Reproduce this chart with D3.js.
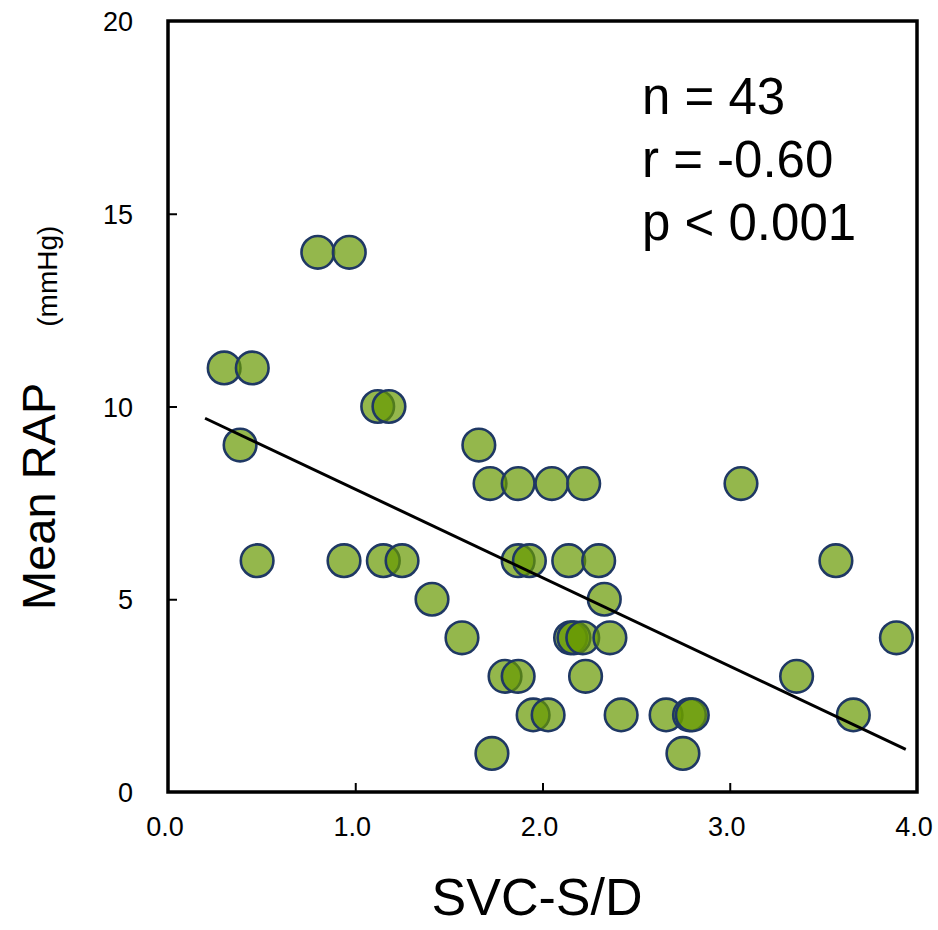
<!DOCTYPE html>
<html>
<head>
<meta charset="utf-8">
<script src="https://cdn.jsdelivr.net/npm/d3@7"></script>
<style>
  html, body { margin: 0; padding: 0; background: #fff; }
  svg text { font-family: "Liberation Sans", Arial, sans-serif; fill: #000; }
</style>
</head>
<body>
<svg id="chart" width="938" height="930"></svg>
<script>
// ---- data ----
const svcSD = [0.80, 0.968, 0.30, 0.45, 1.12, 1.18, 0.385, 1.66,
  1.72, 1.87, 2.05, 2.22, 3.06,
  0.476, 0.94, 1.15, 1.25, 1.87, 1.93, 2.14, 2.30, 3.567,
  1.41, 2.33,
  1.57, 2.15, 2.168, 2.215, 2.36, 3.89,
  1.80, 1.87, 2.23, 3.357,
  1.95, 2.03, 2.42, 2.66, 2.785, 2.80, 3.66,
  1.73, 2.75];
const meanRAP = [14, 14, 11, 11, 10, 10, 9, 9,
  8, 8, 8, 8, 8,
  6, 6, 6, 6, 6, 6, 6, 6, 6,
  5, 5,
  4, 4, 4, 4, 4, 4,
  3, 3, 3, 3,
  2, 2, 2, 2, 2, 2, 2,
  1, 1];
const xTicks = [0, 1, 2, 3, 4];
const yTicks = [0, 5, 10, 15, 20];
const fitRange = [0.198, 3.94];
const fitIntercept = 10.15;
const fitSlope = -2.295;
const statLines = ["n = 43", "r = -0.60", "p < 0.001"];

// ---- layout ----
const L = 168, R = 917, T = 21, B = 792;
const svg = d3.select("#chart");
const x = d3.scaleLinear().domain([0, 4]).range([L, R]);
const y = d3.scaleLinear().domain([0, 20]).range([B, T]);

// inward ticks
svg.append("g").attr("transform", `translate(0,${B})`)
  .call(d3.axisTop(x).tickValues(xTicks.slice(1, -1)).tickSize(9).tickFormat(""))
  .call(g => g.select(".domain").remove())
  .call(g => g.selectAll("line").attr("stroke", "#000").attr("stroke-width", 2));
svg.append("g").attr("transform", `translate(${L},0)`)
  .call(d3.axisRight(y).tickValues(yTicks.slice(1, -1)).tickSize(9).tickFormat(""))
  .call(g => g.select(".domain").remove())
  .call(g => g.selectAll("line").attr("stroke", "#000").attr("stroke-width", 2));

// tick labels
svg.append("g").selectAll("text").data(xTicks).join("text")
  .attr("x", d => x(d) - 3).attr("y", 836)
  .attr("text-anchor", "middle").attr("font-size", 27)
  .text(d => d3.format(".1f")(d));
svg.append("g").selectAll("text").data(yTicks).join("text")
  .attr("x", 133).attr("y", d => y(d) + 10)
  .attr("text-anchor", "end").attr("font-size", 27)
  .text(d => d);

// frame
svg.append("rect").attr("x", x(0)).attr("y", y(20))
  .attr("width", x(4) - x(0)).attr("height", y(0) - y(20))
  .attr("fill", "none").attr("stroke", "#000").attr("stroke-width", 3.5);

// points
const pts = svcSD.map((v, i) => ({ x: v, y: meanRAP[i] }));
svg.append("g").selectAll("circle").data(pts).join("circle")
  .attr("cx", d => x(d.x)).attr("cy", d => y(d.y)).attr("r", 16.3)
  .attr("fill", "#669900").attr("fill-opacity", 0.7)
  .attr("stroke", "#1F3864").attr("stroke-width", 2.6);

// regression line
const line = d3.line().x(d => x(d)).y(d => y(fitIntercept + fitSlope * d));
svg.append("path").datum(fitRange).attr("d", line)
  .attr("fill", "none").attr("stroke", "#000").attr("stroke-width", 3);

// stats annotation
svg.append("g").selectAll("text").data(statLines).join("text")
  .attr("x", 642).attr("y", (d, i) => 114 + i * 63)
  .attr("font-size", 51).text(d => d);

// axis titles
svg.append("text").attr("x", 537).attr("y", 915)
  .attr("text-anchor", "middle").attr("font-size", 52).text("SVC-S/D");

const yt = svg.append("text")
  .attr("transform", "translate(55,496) rotate(-90)")
  .attr("text-anchor", "start");
yt.append("tspan").attr("x", -114).attr("font-size", 47).text("Mean RAP");
yt.append("tspan").attr("dx", 56).attr("dy", 2).attr("font-size", 28).text("(mmHg)");
</script>
</body>
</html>
